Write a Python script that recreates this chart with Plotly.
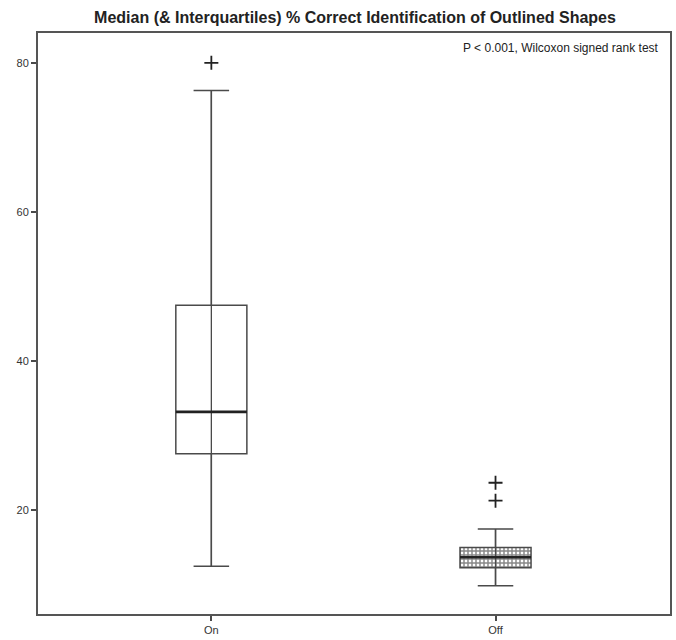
import plotly.graph_objects as go

categories = ["On", "Off"]
q1 = [27.6, 12.3]
median = [33.2, 13.7]
q3 = [47.5, 15.0]
lower_fence = [12.5, 9.9]
upper_fence = [76.3, 17.5]
outliers = [[80.0], [23.7, 21.3]]
y_ticks = [20, 40, 60, 80]

xpos = list(range(len(categories)))
box_w = 0.25
line_col = "#4a4a4a"

fig = go.Figure()

# hatched fill for the "Off" box
fig.add_trace(go.Bar(
    x=[xpos[1]], y=[q3[1] - q1[1]], base=[q1[1]], width=box_w,
    marker=dict(color="white", line=dict(width=0),
                pattern=dict(shape="+", fgcolor="#111", bgcolor="white", size=4, solidity=0.6)),
    showlegend=False, hoverinfo="skip",
))

fig.add_trace(go.Box(
    x=xpos, q1=q1, median=median, q3=q3,
    lowerfence=lower_fence, upperfence=upper_fence,
    width=box_w, whiskerwidth=0.5,
    fillcolor="rgba(0,0,0,0)",
    line=dict(color=line_col, width=1.5),
    showlegend=False, boxpoints=False,
))

for i, x in enumerate(xpos):
    # whisker line through the box
    fig.add_trace(go.Scatter(
        x=[x, x], y=[lower_fence[i], upper_fence[i]], mode="lines",
        line=dict(color=line_col, width=1.3), showlegend=False, hoverinfo="skip",
    ))
    # thick median
    fig.add_trace(go.Scatter(
        x=[x - box_w / 2, x + box_w / 2], y=[median[i], median[i]], mode="lines",
        line=dict(color="#222", width=2.6), showlegend=False, hoverinfo="skip",
    ))
    fig.add_trace(go.Scatter(
        x=[x] * len(outliers[i]), y=outliers[i], mode="markers",
        marker=dict(symbol="cross-thin", size=10, line=dict(color="#222", width=1.8)),
        showlegend=False, hoverinfo="skip",
    ))

fig.update_layout(
    width=676, height=640,
    margin=dict(l=38, r=4, t=33, b=23),
    paper_bgcolor="white", plot_bgcolor="white",
    title=dict(text="<b>Median (&amp; Interquartiles) % Correct Identification of Outlined Shapes</b>",
               x=(38 + 672) / 2 / 676, xanchor="center", y=1 - 17 / 640, yanchor="middle",
               font=dict(family="Liberation Sans Narrow, Arial Narrow, Arial", size=16, color="#222")),
    font=dict(family="Liberation Sans, Arial", color="#333"),
    bargap=0,
)

fig.update_xaxes(
    range=[-0.61, 1.614], tickmode="array", tickvals=xpos, ticktext=categories,
    ticks="outside", ticklen=5, tickcolor=line_col, tickwidth=1.5,
    showline=True, linecolor="#555", linewidth=2, mirror=True,
    showgrid=False, zeroline=False, tickfont=dict(size=11, color="#333"),
)
fig.update_yaxes(
    range=[6.1, 84], tickmode="array", tickvals=y_ticks,
    ticks="outside", ticklen=5, tickcolor=line_col, tickwidth=1.5,
    showline=True, linecolor="#555", linewidth=2, mirror=True,
    showgrid=False, zeroline=False, tickfont=dict(size=11, color="#333"),
)

fig.add_annotation(
    text="P &lt; 0.001, Wilcoxon signed rank test",
    xref="paper", yref="paper", x=0.985, y=0.99, xanchor="right", yanchor="top",
    showarrow=False, font=dict(family="Liberation Sans, Arial", size=12, color="#222"),
)

fig.write_html("out.html")
